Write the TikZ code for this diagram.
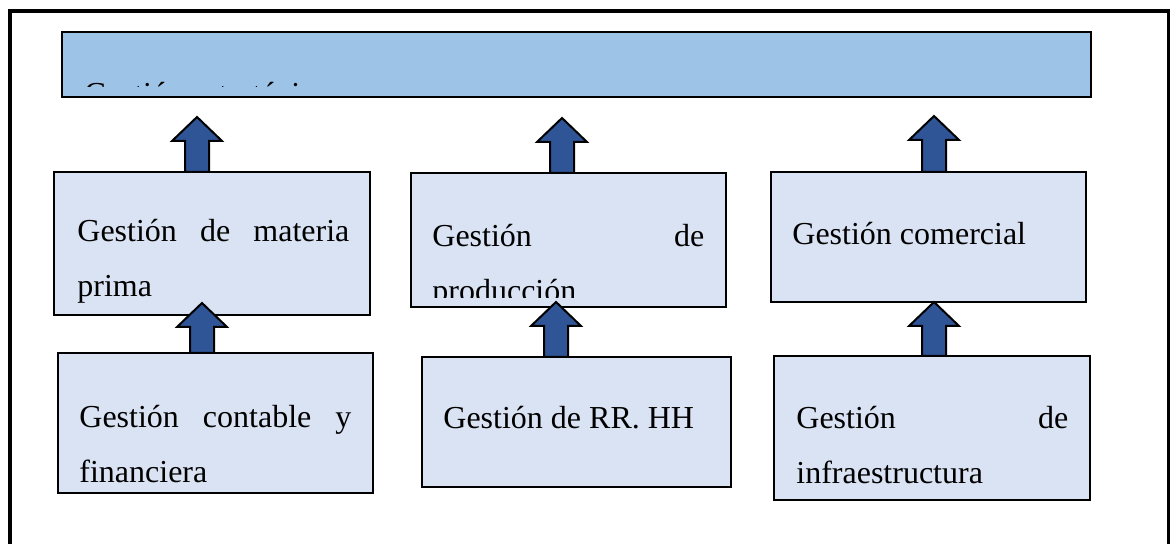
\documentclass[tikz,border=0pt]{standalone}
\usepackage{fontspec}
\setmainfont{Liberation Serif}
\usetikzlibrary{fit,calc}
\definecolor{banda}{HTML}{9DC3E6}
\definecolor{celeste}{HTML}{DAE3F3}
\definecolor{azul}{HTML}{2F5597}

\begin{document}
\begin{tikzpicture}[x=0.5pt,y=-0.5pt]
  \tikzset{every node/.style={inner sep=0pt},
    banner/.style={draw,line width=1.25pt,fill=banda},
    gbox/.style={draw,line width=1pt,fill=celeste},
    gtext/.style={anchor=base west,text width=136pt,align=justify,font=\fontsize{16}{27.5}\selectfont},
    uparrow/.style={draw,line width=1pt,fill=azul,line join=miter,
      to path={let \p1=(\tikztostart), \p2=(\tikztotarget) in
        (\x1-6pt,\y1) -- (\x1-6pt,\y2-12pt) -- (\x1-12.5pt,\y2-12pt) -- (\x1,\y2)
        -- (\x1+12.5pt,\y2-12pt) -- (\x1+6pt,\y2-12pt) -- (\x1+6pt,\y1) -- cycle}}}
  \useasboundingbox (0,0) rectangle (1170,544);
  \draw[line width=1.7pt] (10,11) rectangle (1168.5,600);

  \node[banner,fit={(62,32) (1091,97)}] (est) {};
  \node[gbox,fit={(54,172) (370,315)}] (mp) {};
  \node[gbox,fit={(411,173) (726,307)}] (prod) {};
  \node[gbox,fit={(771,172) (1086,302)}] (com) {};
  \node[gbox,fit={(58,353) (373,493)}] (cont) {};
  \node[gbox,fit={(422,357) (731,487)}] (rrhh) {};
  \node[gbox,fit={(774,356) (1090,500)}] (infra) {};

  \begin{scope}
    \clip (62,32) rectangle (1091,86.5);
    \node[anchor=base west,font=\fontsize{16}{27.5}\selectfont] (est-t) at (84,105) {Gestión estratégica};
  \end{scope}
  \node[gtext] (mp-t) at (77,242) {Gestión de materia\linebreak prima};
  \begin{scope}
    \clip (411,173) rectangle (726,298);
    \node[gtext] (prod-t) at (432,247) {Gestión de\linebreak producción};
  \end{scope}
  \node[gtext] (com-t) at (792,245) {Gestión comercial};
  \node[gtext] (cont-t) at (79,427) {Gestión contable y\linebreak financiera};
  \node[gtext] (rrhh-t) at (443,429) {Gestión de RR. HH};
  \node[gtext] (infra-t) at (796,428) {Gestión de\linebreak infraestructura};

  \coordinate (b1) at (197,172); \coordinate (t1) at (197,117);
  \coordinate (b2) at (562,173); \coordinate (t2) at (562,118);
  \coordinate (b3) at (934,172); \coordinate (t3) at (934,116);
  \coordinate (b4) at (202,353); \coordinate (t4) at (202,303);
  \coordinate (b5) at (556,357); \coordinate (t5) at (556,302);
  \coordinate (b6) at (934,356); \coordinate (t6) at (934,302);
  \foreach \i in {1,...,6}
    \draw[uparrow] (b\i) to (t\i);
\end{tikzpicture}
\end{document}
